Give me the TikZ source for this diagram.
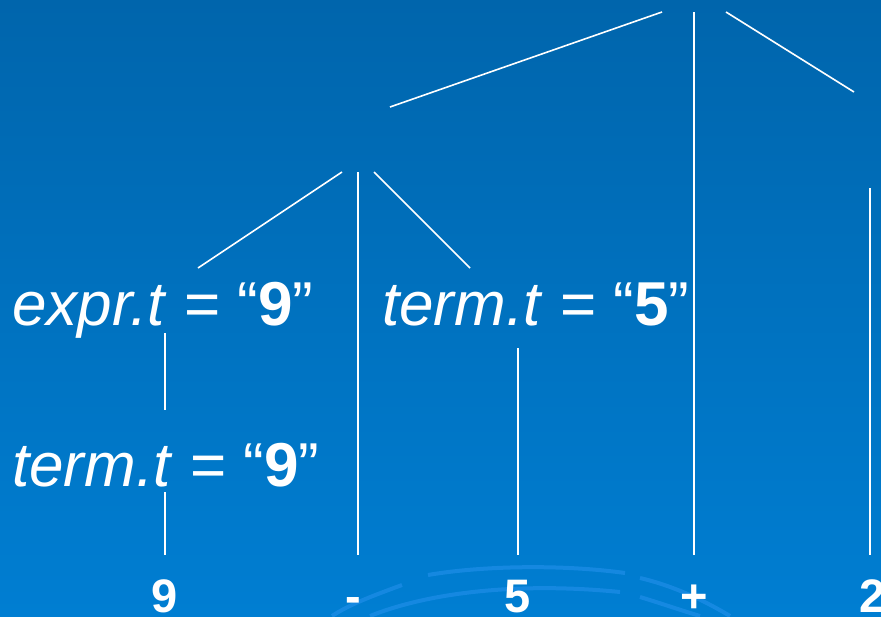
\documentclass[tikz,border=0pt]{standalone}
\usepackage{fontspec}
\setmainfont{Liberation Sans}
\begin{document}
\begin{tikzpicture}[x=1pt,y=-1pt,
  edge/.style={draw=white,line width=1.6pt},
  attr/.style={text=white,inner sep=0pt,anchor=base west,font=\fontsize{62}{72}\selectfont},
  tok/.style={text=white,inner sep=0pt,anchor=base,font=\fontsize{47}{56}\selectfont\bfseries},
  deco/.style={draw=arccol,line width=4pt,opacity=0.7}]
\definecolor{bgtop}{RGB}{0,101,172}
\definecolor{bgbot}{RGB}{0,126,210}
\definecolor{arccol}{RGB}{30,142,232}
\useasboundingbox (0,0) rectangle (881,616);
\shade[top color=bgtop,bottom color=bgbot] (0,0) rectangle (881,616);
% faint decorative arcs
\begin{scope}
\clip (0,0) rectangle (881,616);
\draw[deco] (428,575) .. controls (480,566) and (560,564) .. (625,573);
\draw[deco] (640,578) .. controls (670,585) and (700,598) .. (730,616);
\draw[deco] (332,616) .. controls (350,604) and (375,595) .. (402,585);
\draw[deco] (370,616) .. controls (430,592) and (520,582) .. (620,592);
\draw[deco] (640,597) .. controls (660,603) and (680,610) .. (700,616);
\end{scope}
% attribute texts
\node[attr] (e9) at (12,325) {\textit{expr.t} = “\textbf{9}”};
\node[attr] (t9) at (12,486) {\textit{term.t} = “\textbf{9}”};
\node[attr] (t5) at (382,325) {\textit{term.t} = “\textbf{5}”};
% tokens
\node[tok] (n9) at (165,612) {9};
\node[tok] (nm) at (353,612) {-};
\node[tok] (n5) at (518,612) {5};
\node[tok] (np) at (694,612) {+};
\node[tok] (n2) at (873,612) {2};
% connector end points
\coordinate (r1) at (662,12); \coordinate (r1b) at (390,107);
\coordinate (r2) at (694,12); \coordinate (r2b) at (694,555);
\coordinate (r3) at (726,12); \coordinate (r3b) at (854,92);
\coordinate (m1) at (342,172); \coordinate (m1b) at (198,268);
\coordinate (m2) at (358,172); \coordinate (m2b) at (358,555);
\coordinate (m3) at (374,172); \coordinate (m3b) at (470,268);
\coordinate (a1) at (165,333); \coordinate (a1b) at (165,410);
\coordinate (a2) at (165,492); \coordinate (a2b) at (165,555);
\coordinate (b1) at (518,348); \coordinate (b1b) at (518,555);
\coordinate (c1) at (870,188); \coordinate (c1b) at (870,555);
\draw[edge] (r1) -- (r1b);
\draw[edge] (r2) -- (r2b);
\draw[edge] (r3) -- (r3b);
\draw[edge] (m1) -- (m1b);
\draw[edge] (m2) -- (m2b);
\draw[edge] (m3) -- (m3b);
\draw[edge] (a1) -- (a1b);
\draw[edge] (a2) -- (a2b);
\draw[edge] (b1) -- (b1b);
\draw[edge] (c1) -- (c1b);
\end{tikzpicture}
\end{document}
